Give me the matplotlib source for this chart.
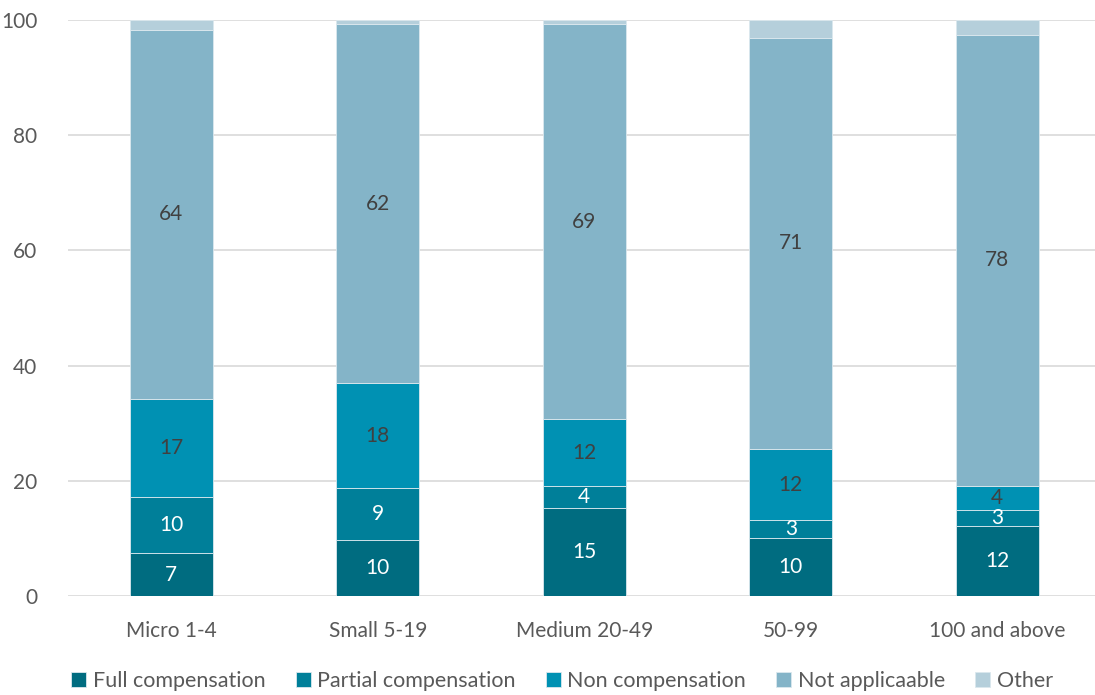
import matplotlib
matplotlib.use("Agg")
import matplotlib.pyplot as plt
import numpy as np

plt.rcParams['font.family'] = ['Lato', 'DejaVu Sans']

categories = ["Micro 1-4", "Small 5-19", "Medium 20-49", "50-99", "100 and above"]
series_names = ["Full compensation", "Partial compensation", "Non compensation",
                "Not applicaable", "Other"]
full_comp = [7.4, 9.7, 15.3, 10.1, 12.2]
partial_comp = [9.8, 9.0, 3.8, 3.1, 2.7]
non_comp = [17.0, 18.2, 11.6, 12.3, 4.2]
not_applicable = [64.1, 62.4, 68.6, 71.4, 78.3]
other = [1.7, 0.7, 0.7, 3.1, 2.6]

series = [full_comp, partial_comp, non_comp, not_applicable, other]
colors = ["#006c80", "#007f99", "#0091b3", "#84b4c8", "#b5cfdb"]
label_colors = ["white", "white", "#404040", "#404040", None]

fig = plt.figure(figsize=(10.95, 6.95), dpi=100)
ax = fig.add_axes([68 / 1095, 99 / 695, 1032.5 / 1095, 576 / 695])

x = np.arange(len(categories))
bottom = np.zeros(len(categories))
for vals, name, col, lc in zip(series, series_names, colors, label_colors):
    vals = np.array(vals)
    ax.bar(x, vals, width=0.4, bottom=bottom, color=col, label=name,
           edgecolor="#dbe8ee", linewidth=0.6, zorder=3)
    if lc is not None:
        for xi, b, v in zip(x, bottom, vals):
            ax.text(xi, b + v / 2, f"{v:.0f}", ha="center", va="center",
                    color=lc, fontsize=15, zorder=4)
    bottom += vals

ax.set_xlim(-0.5, 4.5)
ax.set_ylim(0, 100)
ax.set_yticks(range(0, 101, 20))
ax.set_xticks(x)
ax.set_xticklabels(categories)
ax.grid(axis="y", color="#d9d9d9", linewidth=1.2, zorder=0)
for s in ax.spines.values():
    s.set_visible(False)
ax.tick_params(axis="both", length=0, labelsize=15, colors="#595959")
ax.tick_params(axis="y", pad=22)
ax.tick_params(axis="x", pad=18)

fig.legend(loc="lower left", bbox_to_anchor=(52 / 1095, -0.022), ncol=5,
           frameon=False, fontsize=15.5, handlelength=0.7, handleheight=0.7,
           handletextpad=0.3, columnspacing=1.4, labelcolor="#595959")

fig.savefig("out.png", dpi=100)
